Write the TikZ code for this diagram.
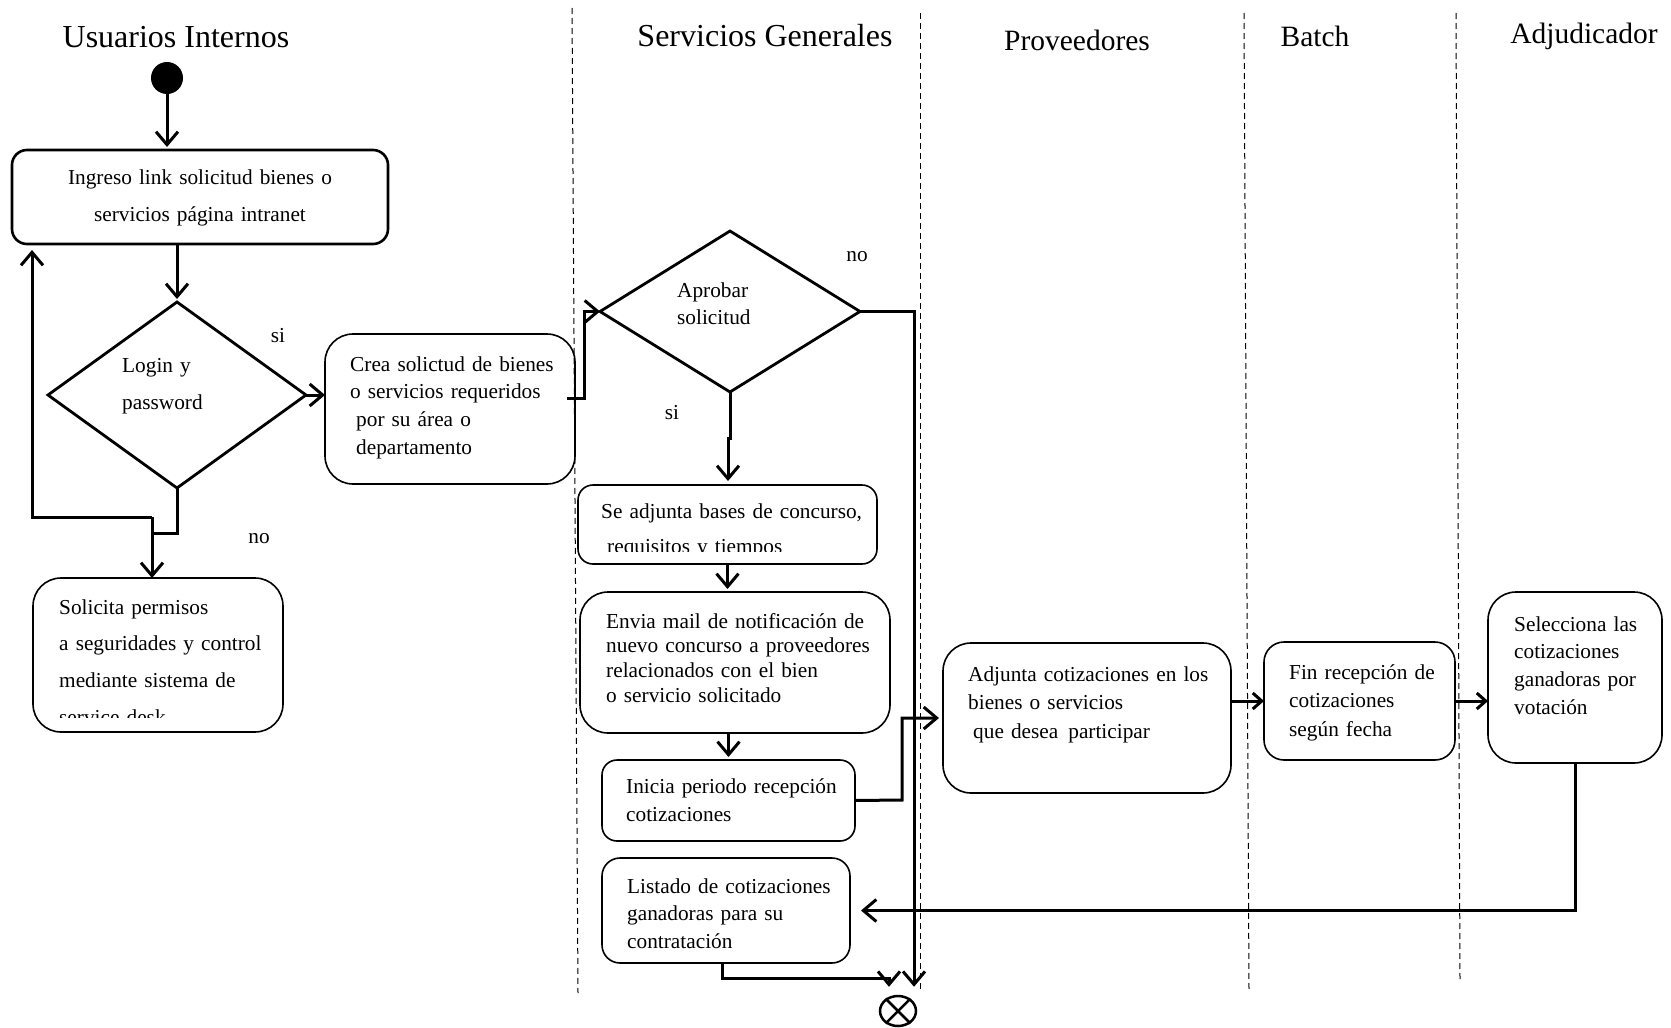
\documentclass[tikz,border=0pt]{standalone}
\usepackage{fontspec}
\setmainfont{Liberation Serif}
\usetikzlibrary{arrows.meta,shapes.geometric,calc}
\begin{document}
\begin{tikzpicture}[x=1pt,y=-1pt,
  conn/.style={line width=3pt},
  arr/.style={conn,-{Straight Barb[length=13pt,width=22pt]}},
  arrs/.style={conn,-{Straight Barb[length=9pt,width=16pt]}},
  rbox/.style={draw, line width=1.6pt, rectangle, inner sep=0pt, outer sep=0pt},
  dia/.style={draw, diamond, line width=2.8pt, inner sep=0pt, outer sep=0pt},
  txt/.style={font=\fontsize{21.3}{25}\selectfont, inner sep=0pt, anchor=base west, align=left, text width=330pt},
  lbl/.style={font=\fontsize{21.3}{25}\selectfont, inner sep=0pt, anchor=base},
  ttl/.style={font=\fontsize{32}{36}\selectfont, inner sep=0pt, anchor=base},
  ttls/.style={font=\fontsize{29.5}{34}\selectfont, inner sep=0pt, anchor=base},
  lane/.style={line width=1pt, dash pattern=on 6pt off 4pt}
]
\fill[white] (0,0) rectangle (1671,1028);
\useasboundingbox (0,0) rectangle (1671,1028);

% lane dividers
\draw[lane] (572,8) -- (578,993);
\draw[lane] (920,13) -- (920,990);
\draw[lane] (1244,13) -- (1249,990);
\draw[lane] (1456,13) -- (1460,980);

% titles
\node[ttl]  (hUI) at (176,47)  {Usuarios Internos};
\node[ttl]  (hSG) at (765,46)  {Servicios Generales};
\node[ttls] (hPR) at (1077,50) {Proveedores};
\node[ttls] (hBA) at (1315,46) {Batch};
\node[ttls] (hAD) at (1584,43) {Adjudicador};

% start / end
\node[circle, fill=black, minimum size=32pt, inner sep=0pt] (start) at (167,78) {};
\node[draw, ellipse, line width=2.5pt, minimum width=36pt, minimum height=30pt, inner sep=0pt] (term) at (898,1011) {};
\draw[line width=2.5pt] (term.45) -- (term.225) (term.135) -- (term.315);

% boxes
\node[rbox, line width=2.6pt, rounded corners=15pt, minimum width=376pt, minimum height=94pt] (b1) at (200,197) {};
\node[dia, minimum width=258pt, minimum height=186pt] (login) at (177,395) {};
\node[rbox, rounded corners=28pt, minimum width=250pt, minimum height=150pt] (crea) at (450,409) {};
\node[rbox, rounded corners=28pt, minimum width=250pt, minimum height=154pt] (sol) at (158,655) {};
\node[dia, minimum width=260pt, minimum height=161pt] (apr) at (730,311.5) {};
\node[rbox, rounded corners=15pt, minimum width=299pt, minimum height=79pt] (adj) at (727.5,524.5) {};
\node[rbox, rounded corners=28pt, minimum width=310pt, minimum height=141pt] (env) at (735,662.5) {};
\node[rbox, rounded corners=15pt, minimum width=253pt, minimum height=81pt] (ini) at (728.5,800.5) {};
\node[rbox, rounded corners=18pt, minimum width=248pt, minimum height=105pt] (lis) at (726,910.5) {};
\node[rbox, rounded corners=28pt, minimum width=288pt, minimum height=150pt] (cot) at (1087,718) {};
\node[rbox, rounded corners=20pt, minimum width=191pt, minimum height=118pt] (fin) at (1359.5,701) {};
\node[rbox, rounded corners=28pt, minimum width=174pt, minimum height=171pt] (sel) at (1575,677.5) {};

% texts
\node[txt, anchor=base, align=center, text width=376pt, font=\fontsize{21.3}{37}\selectfont] (tb1) at (200,184)
  {Ingreso link solicitud bienes o\\servicios página intranet};
\node[txt, font=\fontsize{21.3}{37}\selectfont] (tlogin) at (122,372) {Login y\\password};
\node[txt, font=\fontsize{21.3}{27.7}\selectfont] (tcrea) at (350,371)
  {Crea solictud de bienes\\o servicios requeridos\\\hspace*{6pt}por su área o\\\hspace*{6pt}departamento};
\begin{scope}
  \clip (0,0) rectangle (1671,717);
  \node[txt, font=\fontsize{21.3}{36.7}\selectfont] (tsol) at (59,614)
    {Solicita permisos\\a seguridades y control\\mediante sistema de\\service desk};
\end{scope}
\node[txt, font=\fontsize{21.3}{27}\selectfont] (tapr) at (677,297) {Aprobar\\solicitud};
\begin{scope}
  \clip (0,0) rectangle (1671,551);
  \node[txt, font=\fontsize{21.3}{35}\selectfont] (tadj) at (601,518)
    {Se adjunta bases de concurso,\\\hspace*{6pt}requisitos y tiempos};
\end{scope}
\node[txt, font=\fontsize{21.3}{24.7}\selectfont] (tenv) at (606,628)
  {Envia mail de notificación de\\nuevo concurso a proveedores\\relacionados con el bien\\o servicio solicitado};
\node[txt, font=\fontsize{21.3}{28}\selectfont] (tini) at (626,793)
  {Inicia periodo recepción\\cotizaciones};
\node[txt, font=\fontsize{21.3}{27.5}\selectfont] (tlis) at (627,893)
  {Listado de cotizaciones\\ganadoras para su\\contratación};
\node[txt, font=\fontsize{21.3}{28.5}\selectfont] (tcot) at (968,681)
  {Adjunta cotizaciones en los\\bienes o servicios\\\hspace*{5pt}que desea\hspace{10pt}participar};
\node[txt, font=\fontsize{21.3}{28.5}\selectfont] (tfin) at (1289,679)
  {Fin recepción de\\cotizaciones\\según fecha};
\node[txt, font=\fontsize{21.3}{27.7}\selectfont] (tsel) at (1514,631)
  {Selecciona las\\cotizaciones\\ganadoras por\\votación};

% labels
\node[lbl] (lsi1) at (278,342) {si};
\node[lbl] (lno1) at (259,543) {no};
\node[lbl] (lno2) at (857,261) {no};
\node[lbl] (lsi2) at (672,419) {si};

% helper coordinates
\coordinate (j1) at (152,533);
\coordinate (j2) at (152,517);
\coordinate (l1) at (32,517);
\coordinate (c1) at (567,398);
\coordinate (c2) at (584,398);
\coordinate (n1) at (914,311.5);
\coordinate (s1) at (728,438);
\coordinate (k1) at (902,800);
\coordinate (t1) at (722,978);
\coordinate (t2) at (889,978);

% connectors
\draw[arr, shorten >=3pt] (start.south) -- (start.south |- b1.north);
\draw[arr, shorten >=3pt] (login.north |- b1.south) -- (login.north);
\draw[arr] (login.east) -- (login.east -| crea.west);
\draw[conn] (login.south) |- (j1);
\draw[arr] (j2) -- (j2 |- sol.north);
\draw[arr, shorten >=6pt] (j2) -- (l1) -- (l1 |- b1.south);
\draw[arr] (c1) -- (c2) |- (apr.west);
\draw[arr, shorten >=8pt] (apr.east) -| (n1 |- term.north);
\draw[arr, shorten >=4pt] (apr.south) |- (s1) -- (s1 |- adj.north);
\draw[arr, shorten >=3pt] (adj.south) -- (adj.south |- env.north);
\draw[arr, shorten >=3pt] (ini.north |- env.south) -- (ini.north);
\draw[arr, shorten >=4pt] (ini.east) -- (k1) |- (cot.west);
\draw[arrs] (cot.east |- fin.west) -- (fin.west);
\draw[arrs] (fin.east) -- (fin.east -| sel.west);
\draw[arr, shorten >=11pt] (sel.south) |- (lis.east);
\draw[arr, shorten >=8pt] (lis.south -| t1) -- (t1) -- (t2) -- (t2 |- term.north);
\end{tikzpicture}
\end{document}
